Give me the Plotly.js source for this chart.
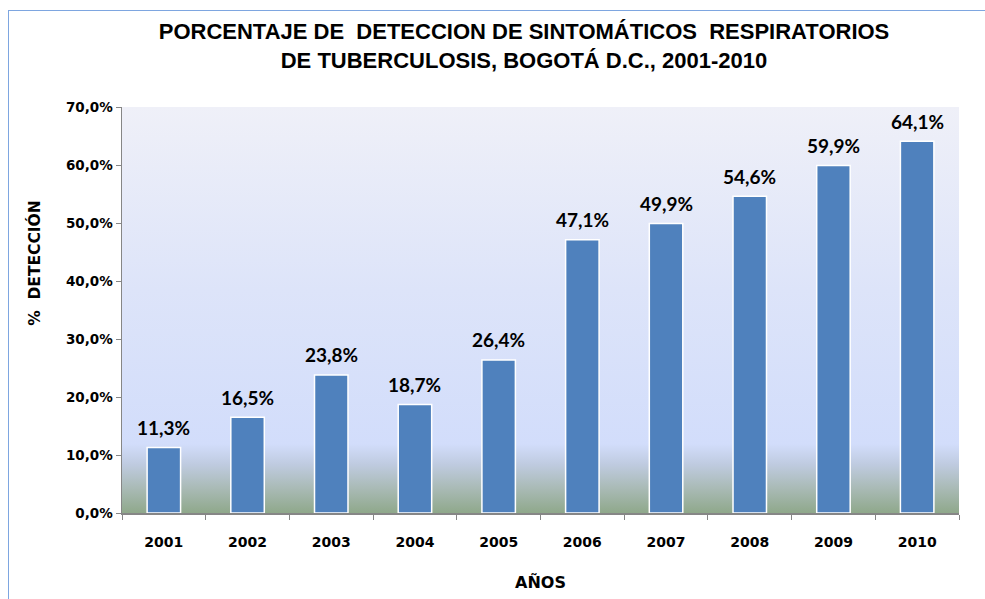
<!DOCTYPE html>
<html>
<head>
<meta charset="utf-8">
<script src="https://cdn.plot.ly/plotly-3.0.1.min.js"></script>
<style>
  html, body { margin: 0; padding: 0; background: #ffffff; }
  #wrap { position: relative; width: 985px; height: 599px; overflow: hidden; }
  #frame { position: absolute; left: 8px; top: 10px; width: 1000px; height: 620px;
           border: 1px solid #7ea6e0; box-sizing: border-box; pointer-events: none; }
  #chart { position: absolute; left: 0; top: 0; width: 985px; height: 599px; }
</style>
</head>
<body>
<div id="wrap">
  <div id="chart"></div>
  <div id="frame"></div>
</div>
<script>
const years = ['2001','2002','2003','2004','2005','2006','2007','2008','2009','2010'];
const detection = [11.3, 16.5, 23.8, 18.7, 26.4, 47.1, 49.9, 54.6, 59.9, 64.1];
const yTicks = [0, 10, 20, 30, 40, 50, 60, 70];

const titleText = '<b>PORCENTAJE DE  DETECCION DE SINTOMÁTICOS  RESPIRATORIOS<br>DE TUBERCULOSIS, BOGOTÁ D.C., 2001-2010</b>';
const xTitle = '<b>AÑOS</b>';
const yTitle = '<b>%  DETECCIÓN</b>';

const bgSvg = '<svg xmlns="http://www.w3.org/2000/svg" width="100" height="100" preserveAspectRatio="none">' +
  '<defs><linearGradient id="g" x1="0" y1="0" x2="0" y2="1">' +
  '<stop offset="0" stop-color="#eff0f8"/>' +
  '<stop offset="0.45" stop-color="#dde4f9"/>' +
  '<stop offset="0.83" stop-color="#d2ddfb"/>' +
  '<stop offset="0.88" stop-color="#bfcbe0"/>' +
  '<stop offset="0.94" stop-color="#a9bab5"/>' +
  '<stop offset="1" stop-color="#8fa88b"/>' +
  '</linearGradient></defs><rect width="100" height="100" fill="url(#g)"/></svg>';
const bgUri = 'data:image/svg+xml;charset=utf-8,' + encodeURIComponent(bgSvg);

const fmt = v => v.toFixed(1).replace('.', ',') + '%';

const trace = {
  type: 'bar',
  x: years,
  y: detection,
  width: 0.4,
  marker: { color: '#4f81bd', line: { color: '#ffffff', width: 1.5 } },
  hoverinfo: 'skip'
};

const annotations = years.map((yr, i) => ({
  x: i, y: detection[i], xref: 'x', yref: 'y',
  text: '<b>' + fmt(detection[i]) + '</b>', showarrow: false,
  yanchor: 'middle', yshift: 20,
  font: { family: 'Lato, "Open Sans", sans-serif', size: 19, color: '#000000' }
}));
annotations.push({
  text: xTitle, xref: 'paper', yref: 'paper', x: 0.5, y: -0.172,
  xanchor: 'center', yanchor: 'middle', showarrow: false,
  font: { family: '"DejaVu Sans", sans-serif', size: 16, color: '#000000' }
});
annotations.push({
  text: yTitle, xref: 'paper', yref: 'paper', x: -0.104, y: 0.616,
  xanchor: 'center', yanchor: 'middle', showarrow: false, textangle: -90,
  font: { family: '"DejaVu Sans", sans-serif', size: 15.5, color: '#000000' }
});

const layout = {
  width: 985, height: 599,
  margin: { l: 122, r: 26, t: 107, b: 86 },
  paper_bgcolor: 'rgba(0,0,0,0)',
  plot_bgcolor: 'rgba(0,0,0,0)',
  showlegend: false,
  title: {
    text: titleText,
    xref: 'container', yref: 'container',
    x: 0.532, xanchor: 'center', y: 0.935, yanchor: 'top',
    font: { family: '"Liberation Sans", Arial, sans-serif', size: 22, color: '#000000' }
  },
  xaxis: {
    type: 'category',
    range: [-0.5, years.length - 0.5],
    showline: true, linecolor: '#868686', linewidth: 1.5,
    ticks: 'outside', ticklen: 5, tickcolor: '#868686', tickson: 'boundaries',
    ticklabelstandoff: 16,
    tickfont: { family: '"DejaVu Sans", sans-serif', size: 14, color: '#000000', weight: 'bold' },
    showgrid: false, zeroline: false, fixedrange: true
  },
  yaxis: {
    range: [0, 70],
    tickvals: yTicks,
    ticktext: yTicks.map(v => '<b>' + v.toFixed(1).replace('.', ',') + '%</b>'),
    showline: true, linecolor: '#868686', linewidth: 1.5,
    ticks: 'outside', ticklen: 5, tickcolor: '#868686',
    tickfont: { family: '"DejaVu Sans", sans-serif', size: 13.5, color: '#000000' },
    showgrid: false, zeroline: false, fixedrange: true
  },
  images: [{
    source: bgUri, xref: 'paper', yref: 'paper',
    x: 0, y: 1, sizex: 1, sizey: 1, xanchor: 'left', yanchor: 'top',
    sizing: 'stretch', layer: 'below'
  }],
  annotations: annotations
};

Plotly.newPlot('chart', [trace], layout, { displayModeBar: false, staticPlot: true });
</script>
</body>
</html>
